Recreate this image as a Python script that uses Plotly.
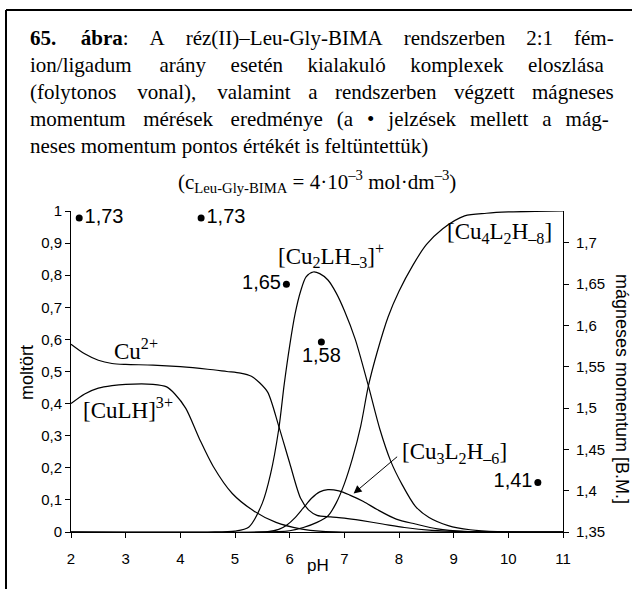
import plotly.graph_objects as go

# distribution curves (mole fraction vs pH)
ph_cu = [2.0, 2.25, 2.5, 2.75, 3.0, 3.5, 4.0, 4.5, 4.85, 5.1, 5.3, 5.45, 5.6, 5.8, 6.0, 6.2, 6.35, 6.5, 6.75, 7.0, 7.3, 7.7, 8.1, 8.6, 9.2, 10.0, 11.0]
cu = [0.585, 0.555, 0.535, 0.525, 0.522, 0.52, 0.515, 0.507, 0.50, 0.495, 0.485, 0.465, 0.435, 0.33, 0.215, 0.105, 0.068, 0.052, 0.047, 0.043, 0.036, 0.025, 0.014, 0.005, 0.001, 0.0, 0.0]

ph_culh = [2.0, 2.25, 2.5, 2.75, 3.0, 3.5, 3.75, 3.9, 4.1, 4.35, 4.6, 4.95, 5.35, 5.75, 6.2, 6.6, 7.0, 11.0]
culh = [0.40, 0.43, 0.448, 0.456, 0.46, 0.46, 0.452, 0.43, 0.385, 0.29, 0.205, 0.12, 0.065, 0.03, 0.01, 0.002, 0.0, 0.0]

ph_cu2 = [2.0, 4.5, 5.0, 5.25, 5.5, 5.65, 5.8, 5.9, 6.0, 6.1, 6.2, 6.3, 6.43, 6.55, 6.7, 6.85, 7.0, 7.2, 7.44, 7.65, 7.85, 8.05, 8.3, 8.55, 8.9, 9.3, 9.8, 11.0]
cu2 = [0.0, 0.0, 0.003, 0.015, 0.09, 0.18, 0.32, 0.46, 0.58, 0.68, 0.75, 0.795, 0.81, 0.805, 0.785, 0.745, 0.69, 0.6, 0.455, 0.32, 0.22, 0.15, 0.08, 0.045, 0.02, 0.007, 0.001, 0.0]

ph_cu3 = [2.0, 5.6, 5.8, 5.95, 6.1, 6.25, 6.4, 6.55, 6.7, 6.9, 7.1, 7.35, 7.6, 7.95, 8.3, 8.7, 9.2, 9.8, 11.0]
cu3 = [0.0, 0.001, 0.008, 0.022, 0.045, 0.075, 0.105, 0.125, 0.132, 0.128, 0.115, 0.095, 0.07, 0.04, 0.025, 0.01, 0.002, 0.0, 0.0]

ph_cu4 = [2.0, 5.8, 6.0, 6.25, 6.5, 6.7, 6.85, 7.0, 7.15, 7.3, 7.44, 7.6, 7.8, 8.0, 8.25, 8.5, 8.8, 9.2, 9.6, 10.0, 10.5, 11.0]
cu4 = [0.0, 0.001, 0.004, 0.014, 0.03, 0.05, 0.09, 0.15, 0.23, 0.33, 0.455, 0.56, 0.67, 0.75, 0.83, 0.895, 0.945, 0.985, 0.993, 0.997, 0.999, 1.0]

# magnetic moment measurements
mm_ph = [2.15, 4.38, 5.94, 6.58, 10.54]
mm_val = [1.73, 1.73, 1.65, 1.58, 1.41]
mm_text = ["1,73", "1,73", "1,65", "1,58", "1,41"]

x_ticks = [2, 3, 4, 5, 6, 7, 8, 9, 10, 11]
y_ticks = [0, 0.1, 0.2, 0.3, 0.4, 0.5, 0.6, 0.7, 0.8, 0.9, 1.0]
y_ticktext = ["0", "0,1", "0,2", "0,3", "0,4", "0,5", "0,6", "0,7", "0,8", "0,9", "1"]
y2_ticks = [1.35, 1.4, 1.45, 1.5, 1.55, 1.6, 1.65, 1.7]
y2_ticktext = ["1,35", "1,4", "1,45", "1,5", "1,55", "1,6", "1,65", "1,7"]

W, H = 632, 589
L, R, T, B = 71, 69, 211, 57
PW, PH = W - L - R, H - T - B


def px(x):
    return (x - L) / PW


def py(y):
    return (H - B - y) / PH


SERIF = "Times New Roman, Liberation Serif, serif"
SANS = "Arial, Liberation Sans, sans-serif"
CAP_SIZE = 21

fig = go.Figure()
for xs, ys in [(ph_cu, cu), (ph_culh, culh), (ph_cu2, cu2), (ph_cu3, cu3), (ph_cu4, cu4)]:
    fig.add_trace(go.Scatter(x=xs, y=ys, mode="lines",
                             line=dict(color="black", width=1.2, shape="spline", smoothing=0.8),
                             hoverinfo="skip"))

fig.add_trace(go.Scatter(x=mm_ph, y=mm_val, yaxis="y2", mode="markers+text",
                         marker=dict(color="black", size=7),
                         text=mm_text,
                         textposition=["middle right", "middle right", "middle left", "bottom center", "middle left"],
                         textfont=dict(family=SANS, size=20, color="black"),
                         cliponaxis=False))

axis_common = dict(showline=True, linecolor="black", linewidth=1, showgrid=False, zeroline=False,
                   ticks="outside", ticklen=5, tickcolor="black",
                   tickfont=dict(family=SANS, size=15, color="black"))

fig.update_layout(
    width=W, height=H,
    margin=dict(l=L, r=R, t=T, b=B),
    paper_bgcolor="white", plot_bgcolor="white",
    showlegend=False,
    xaxis=dict(range=[2, 11], tickvals=x_ticks, ticklabelstandoff=8, **axis_common),
    yaxis=dict(range=[0, 1], tickvals=y_ticks, ticktext=y_ticktext, **axis_common),
    yaxis2=dict(range=[1.35, 1.7386], tickvals=y2_ticks, ticktext=y2_ticktext,
                overlaying="y", side="right", anchor="x", ticklabelstandoff=4, **axis_common),
    yaxis3=dict(range=[1.35, 1.7386], tickvals=y2_ticks, overlaying="y", side="right", anchor="x",
                showline=False, showgrid=False, zeroline=False, ticks="inside", ticklen=5,
                tickcolor="black", showticklabels=False),
)

# frame round the figure text
fig.add_shape(type="line", xref="paper", yref="paper", x0=px(6), x1=px(632), y0=py(10), y1=py(10),
              line=dict(color="black", width=2))
fig.add_shape(type="line", xref="paper", yref="paper", x0=px(6), x1=px(6), y0=py(10), y1=py(589),
              line=dict(color="black", width=2))


def justify(words, total):
    # spread about `total` pixels of six-per-em spaces over the word gaps
    unit = CAP_SIZE / 6
    n = len(words) - 1
    units = max(n, round(total / unit))
    out = words[0]
    for k, w in enumerate(words[1:]):
        out += "\u2006" * (units // n + (1 if k < units % n else 0)) + w
    return out


# caption: words of each line and the total gap width that justifies it
caption = [
    (["<b>65.", "ábra</b>:", "A", "réz(II)–Leu-Gly-BIMA", "rendszerben", "2:1", "fém-"], 131),
    (["ion/ligadum", "arány", "esetén", "kialakuló", "komplexek", "eloszlása"], 124.5),
    (["(folytonos", "vonal),", "valamint", "a", "rendszerben", "végzett", "mágneses"], 112),
    (["momentum", "mérések", "eredménye", "(a", "•", "jelzések", "mellett", "a", "mág-"], 118),
]
for i, (words, g) in enumerate(caption):
    fig.add_annotation(text=justify(words, g), xref="paper", yref="paper", x=px(28), y=py(38 + 27 * i),
                       xanchor="left", yanchor="middle", showarrow=False,
                       font=dict(family=SERIF, size=CAP_SIZE, color="black"))
fig.add_annotation(text="neses momentum pontos értékét is feltüntettük)", xref="paper", yref="paper",
                   x=px(28), y=py(38 + 27 * 4), xanchor="left", yanchor="middle", showarrow=False,
                   font=dict(family=SERIF, size=CAP_SIZE, color="black"))
fig.add_annotation(text="(c<sub>Leu-Gly-BIMA</sub> = 4·10<sup>–3</sup> mol·dm<sup>–3</sup>)",
                   xref="paper", yref="paper", x=px(317), y=py(181), xanchor="center", yanchor="middle",
                   showarrow=False, font=dict(family=SERIF, size=CAP_SIZE, color="black"))

# species labels
labels = [
    ("Cu<sup>2+</sup>", 3.18, 0.567),
    ("[CuLH]<sup>3+</sup>", 3.05, 0.386),
    ("[Cu<sub>2</sub>LH<sub>–3</sub>]<sup>+</sup>", 6.76, 0.86),
    ("[Cu<sub>4</sub>L<sub>2</sub>H<sub>–8</sub>]", 9.83, 0.93),
    ("[Cu<sub>3</sub>L<sub>2</sub>H<sub>–6</sub>]", 9.01, 0.246),
]
for txt, x, y in labels:
    fig.add_annotation(text=txt, x=x, y=y, xref="x", yref="y", showarrow=False,
                       xanchor="center", yanchor="middle",
                       font=dict(family=SERIF, size=23, color="black"))

fig.add_annotation(text="", x=7.17, y=0.12, xref="x", yref="y", showarrow=True,
                   ax=45, ay=-38, arrowhead=2, arrowsize=1.6, arrowwidth=1, arrowcolor="black")

# axis titles
fig.add_annotation(text="moltört", xref="paper", yref="paper", x=px(27), y=py(373), textangle=-90,
                   showarrow=False, xanchor="center", yanchor="middle",
                   font=dict(family=SANS, size=18, color="black"))
fig.add_annotation(text="mágneses momentum [B.M.]", xref="paper", yref="paper", x=px(622), y=py(389),
                   textangle=90, showarrow=False, xanchor="center", yanchor="middle",
                   font=dict(family=SANS, size=18, color="black"))
fig.add_annotation(text="pH", xref="paper", yref="paper", x=px(318), y=py(565),
                   showarrow=False, xanchor="center", yanchor="middle",
                   font=dict(family=SANS, size=17, color="black"))

# the page has a default body margin; drop it so the figure sits at the window corner
fig.write_html("out.html", config={"displayModeBar": False},
               post_script="document.body.style.margin = '0';")
